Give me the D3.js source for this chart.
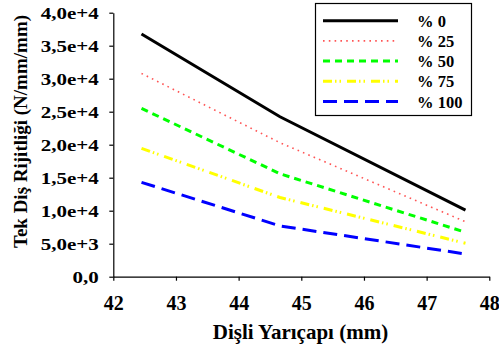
<!DOCTYPE html>
<html><head><meta charset="utf-8">
<script src="https://cdn.jsdelivr.net/npm/d3@7/dist/d3.min.js"></script>
<style>html,body{margin:0;padding:0;background:#fff;}svg{display:block;}</style>
</head><body>
<svg id="c" width="499" height="355"></svg>
<script>
const radii = [42.45, 44.66, 47.62];
const s0 = [36770, 24240, 10100];
const s25 = [30800, 20300, 8330];
const s50 = [25500, 15600, 6730];
const s75 = [19450, 12000, 5060];
const s100 = [14300, 7700, 3440];
const seriesNames = ["% 0", "% 25", "% 50", "% 75", "% 100"];
const xTicks = [42, 43, 44, 45, 46, 47, 48];
const yTicks = [0, 5000, 10000, 15000, 20000, 25000, 30000, 35000, 40000];
const yTickLabels = ["0,0", "5,0e+3", "1,0e+4", "1,5e+4", "2,0e+4", "2,5e+4", "3,0e+4", "3,5e+4", "4,0e+4"];

const styles = [
  {color: "#000000", width: 3, dash: null},
  {color: "#ff5555", width: 1.6, dash: "1.6,4.2"},
  {color: "#00ff00", width: 3, dash: "7,5"},
  {color: "#ffff00", width: 3, dash: "9,3,1.5,3,1.5,6"},
  {color: "#0000ff", width: 3, dash: "14,7"}
];
const allSeries = [s0, s25, s50, s75, s100];

const svg = d3.select("#c");
const font = "'Liberation Serif','Times New Roman',serif";
const x = d3.scaleLinear().domain([42, 48]).range([113.3, 489.3]);
const y = d3.scaleLinear().domain([0, 40000]).range([276.7, 12.7]);

const xAxis = svg.append("g").attr("transform", "translate(0,276.7)")
  .call(d3.axisBottom(x).tickValues(xTicks).tickFormat(d3.format("d")).tickSizeOuter(0).tickSizeInner(4).tickPadding(15));
const yAxis = svg.append("g").attr("transform", "translate(113.3,0)")
  .call(d3.axisLeft(y).tickValues(yTicks).tickFormat((d, i) => yTickLabels[i]).tickSizeOuter(0).tickSizeInner(4).tickPadding(10));
[xAxis, yAxis].forEach(g => {
  g.selectAll("path,line").attr("stroke", "#000").attr("stroke-width", 1.2);
  g.selectAll("text").attr("font-family", font).attr("font-weight", "bold").attr("fill", "#000");
});
xAxis.selectAll("text").attr("font-size", 20);
yAxis.selectAll("text").attr("font-size", 17.5).attr("dy", "0.32em")
  .attr("x", -14.5 / 1.2).attr("transform", "scale(1.2,1)");

const line = d3.line().x((d, i) => x(radii[i])).y(d => y(d));
allSeries.forEach((s, k) => {
  const st = styles[k];
  svg.append("path").datum(s).attr("d", line).attr("fill", "none")
    .attr("stroke", st.color).attr("stroke-width", st.width)
    .attr("stroke-dasharray", st.dash);
});

// legend
const lg = svg.append("g");
lg.append("rect").attr("x", 315.5).attr("y", 3.5).attr("width", 156).attr("height", 112)
  .attr("fill", "#fff").attr("stroke", "#000").attr("stroke-width", 1.2);
seriesNames.forEach((n, k) => {
  const st = styles[k];
  const yy = 20.7 + k * 20.2;
  lg.append("line").attr("x1", 323).attr("x2", 398).attr("y1", yy).attr("y2", yy)
    .attr("stroke", st.color).attr("stroke-width", st.width).attr("stroke-dasharray", st.dash);
  lg.append("text").attr("x", 417).attr("y", yy + 6).text(n)
    .attr("font-family", font).attr("font-weight", "bold").attr("font-size", 16.5).attr("fill", "#000");
});

svg.append("text").attr("x", 300.5).attr("y", 338.5).attr("text-anchor", "middle")
  .attr("font-family", font).attr("font-weight", "bold").attr("font-size", 21).text("Dişli Yarıçapı (mm)");
svg.append("text").attr("transform", "translate(27,131.5) rotate(-90)").attr("text-anchor", "middle")
  .attr("font-family", font).attr("font-weight", "bold").attr("font-size", 19).text("Tek Diş Rijitliği (N/mm/mm)");
</script>
</body></html>
